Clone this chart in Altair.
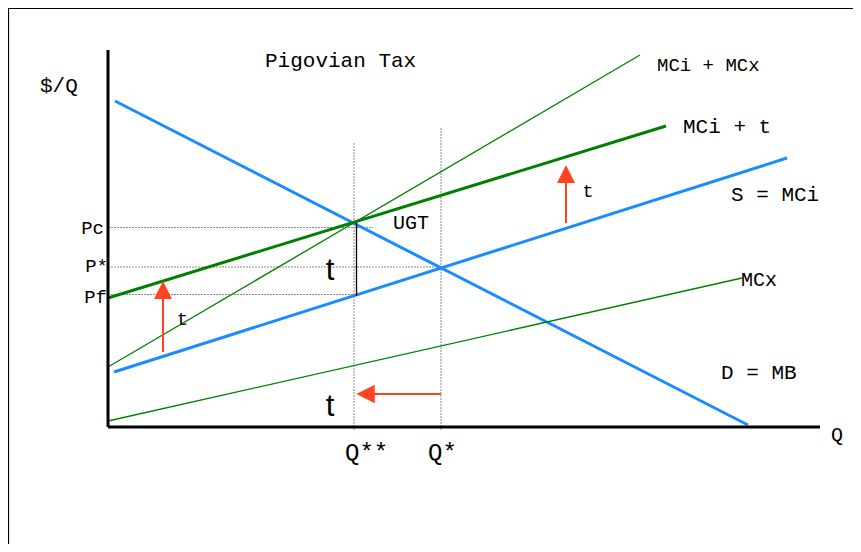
import altair as alt
import pandas as pd

# ---- data (Q units to the right, $/Q units upward) ----
curve_names = ["D = MB", "S = MCi", "MCi + t", "MCi + MCx", "MCx"]
curve_q0 = [7, 6, 0, 0, 0]
curve_p0 = [326, 55, 129, 60, 6]
curve_q1 = [640, 679, 558, 532, 634]
curve_p1 = [2, 269, 301, 372, 149]

price_names = ["Pc", "P*", "Pf"]
price_levels = [199.5, 160, 132.5]
price_guide_end = [265, 332, 247]

qty_names = ["Q**", "Q*"]
qty_levels = [246, 333]
qty_guide_top = [285, 299]

tax_q = [248.5]
tax_p0 = [131]
tax_p1 = [204]

# arrows: start (tail) and tip
arrow_q0 = [55, 458, 333]
arrow_p0 = [75, 204, 33]
arrow_q1 = [55, 458, 248]
arrow_p1 = [146, 262, 33]

axis_q_max = 712
axis_p_max = 377

# ---- scales ----
xs = alt.Scale(domain=[-100, 745], nice=False, zero=False)
ys = alt.Scale(domain=[-117, 419], nice=False, zero=False)
X = lambda f: alt.X(f, type="quantitative", scale=xs, axis=None)
Y = lambda f: alt.Y(f, type="quantitative", scale=ys, axis=None)

BLUE = "#1a8cff"
GREEN = "#008000"
RED = "#ff4422"
GRAY = "#8a8a8a"
MONO = "Liberation Mono"
SANS = "Liberation Sans"

curves = pd.DataFrame({"name": curve_names, "q0": curve_q0, "p0": curve_p0,
                       "q1": curve_q1, "p1": curve_p1})
curve_style = {"D = MB": (BLUE, 3), "S = MCi": (BLUE, 3), "MCi + t": (GREEN, 3),
               "MCi + MCx": (GREEN, 1.3), "MCx": (GREEN, 1.3)}

layers = []

# frame
frame = pd.DataFrame({"q0": [-99.7, -99.7], "p0": [418.7, -117],
                      "q1": [745, -99.7], "p1": [418.7, 418.7]})
layers.append(alt.Chart(frame).mark_rule(color="black", strokeWidth=1.6).encode(
    x=X("q0"), y=Y("p0"), x2="q1", y2="p1"))

# dotted guides
hg = pd.DataFrame({"q0": [0] * 3, "q1": price_guide_end, "p": price_levels})
layers.append(alt.Chart(hg).mark_rule(color=GRAY, strokeWidth=1, strokeDash=[2, 1]).encode(
    x=X("q0"), x2="q1", y=Y("p")))
vg = pd.DataFrame({"q": qty_levels, "p0": [-3, -3], "p1": qty_guide_top})
layers.append(alt.Chart(vg).mark_rule(color=GRAY, strokeWidth=1, strokeDash=[2, 1]).encode(
    x=X("q"), y=Y("p0"), y2="p1"))

# curves
for name, (col, w) in curve_style.items():
    d = curves[curves["name"] == name]
    layers.append(alt.Chart(d).mark_rule(color=col, strokeWidth=w, strokeCap="butt").encode(
        x=X("q0"), y=Y("p0"), x2="q1", y2="p1"))

# tax bracket
tb = pd.DataFrame({"q": tax_q, "p0": tax_p0, "p1": tax_p1})
layers.append(alt.Chart(tb).mark_rule(color="black", strokeWidth=1.3).encode(
    x=X("q"), y=Y("p0"), y2="p1"))

# axes
ax = pd.DataFrame({"q0": [0, 0], "p0": [0, 0], "q1": [0, axis_q_max], "p1": [axis_p_max, 0]})
layers.append(alt.Chart(ax).mark_rule(color="black", strokeWidth=3).encode(
    x=X("q0"), y=Y("p0"), x2="q1", y2="p1"))

# arrows
arr = pd.DataFrame({"q0": arrow_q0, "p0": arrow_p0, "q1": arrow_q1, "p1": arrow_p1})
vertical = [a == b for a, b in zip(arrow_q0, arrow_q1)]
arr["qe"] = [q1 + (0 if v else 10) for q1, v in zip(arrow_q1, vertical)]
arr["pe"] = [p1 - (9 if v else 0) for p1, v in zip(arrow_p1, vertical)]
arr["vertical"] = vertical
layers.append(alt.Chart(arr).mark_rule(color=RED, strokeWidth=2).encode(
    x=X("q0"), y=Y("p0"), x2="qe", y2="pe"))
up = arr[arr["vertical"]].copy()
up["pc"] = up["p1"] - 9
layers.append(alt.Chart(up).mark_point(shape="M0,-1L1,1L-1,1Z", size=324, filled=True,
                                       color=RED, opacity=1, strokeWidth=0).encode(
    x=X("q1"), y=Y("pc")))
left = arr[~arr["vertical"]].copy()
left["qc"] = left["q1"] + 9.5
layers.append(alt.Chart(left).mark_point(shape="M-1,0L1,-1L1,1Z", size=340, filled=True,
                                         color=RED, opacity=1, strokeWidth=0).encode(
    x=X("qc"), y=Y("p1")))

# texts
def txt(df, font, size, align="left", color="black"):
    return alt.Chart(pd.DataFrame(df)).mark_text(
        font=font, fontSize=size, align=align, baseline="alphabetic", color=color
    ).encode(x=X("q"), y=Y("p"), text="t:N")

layers.append(txt({"t": ["Pigovian Tax", "$/Q", "MCi + t", "S = MCi", "D = MB"],
                   "q": [157, -68, 575, 623, 613],
                   "p": [360, 335, 294, 226, 48]}, MONO, 21))
layers.append(txt({"t": ["MCx", "Q"], "q": [633, 723], "p": [141, -14]}, MONO, 20))
layers.append(txt({"t": ["MCi + MCx"], "q": [549], "p": [356]}, MONO, 19))
layers.append(txt({"t": price_names, "q": [-4, 0, -1], "p": [193, 155, 124]}, MONO, 19, "right"))
layers.append(txt({"t": ["UGT"], "q": [285], "p": [198]}, MONO, 20))
layers.append(txt({"t": ["t", "t"], "q": [74.5, 480], "p": [102, 230]}, MONO, 19, "center"))
layers.append(txt({"t": ["t", "t"], "q": [222, 222], "p": [147, 11]}, SANS, 31, "center"))
layers.append(txt({"t": qty_names, "q": [237, 320], "p": [-33, -33]}, MONO, 24))

chart = alt.layer(*layers).properties(
    width=845, height=536, padding=0, background="white",
    autosize=alt.AutoSizeParams(type="none")
).configure_view(stroke=None)

chart.save("out.html", embed_options={"renderer": "svg", "actions": False})
